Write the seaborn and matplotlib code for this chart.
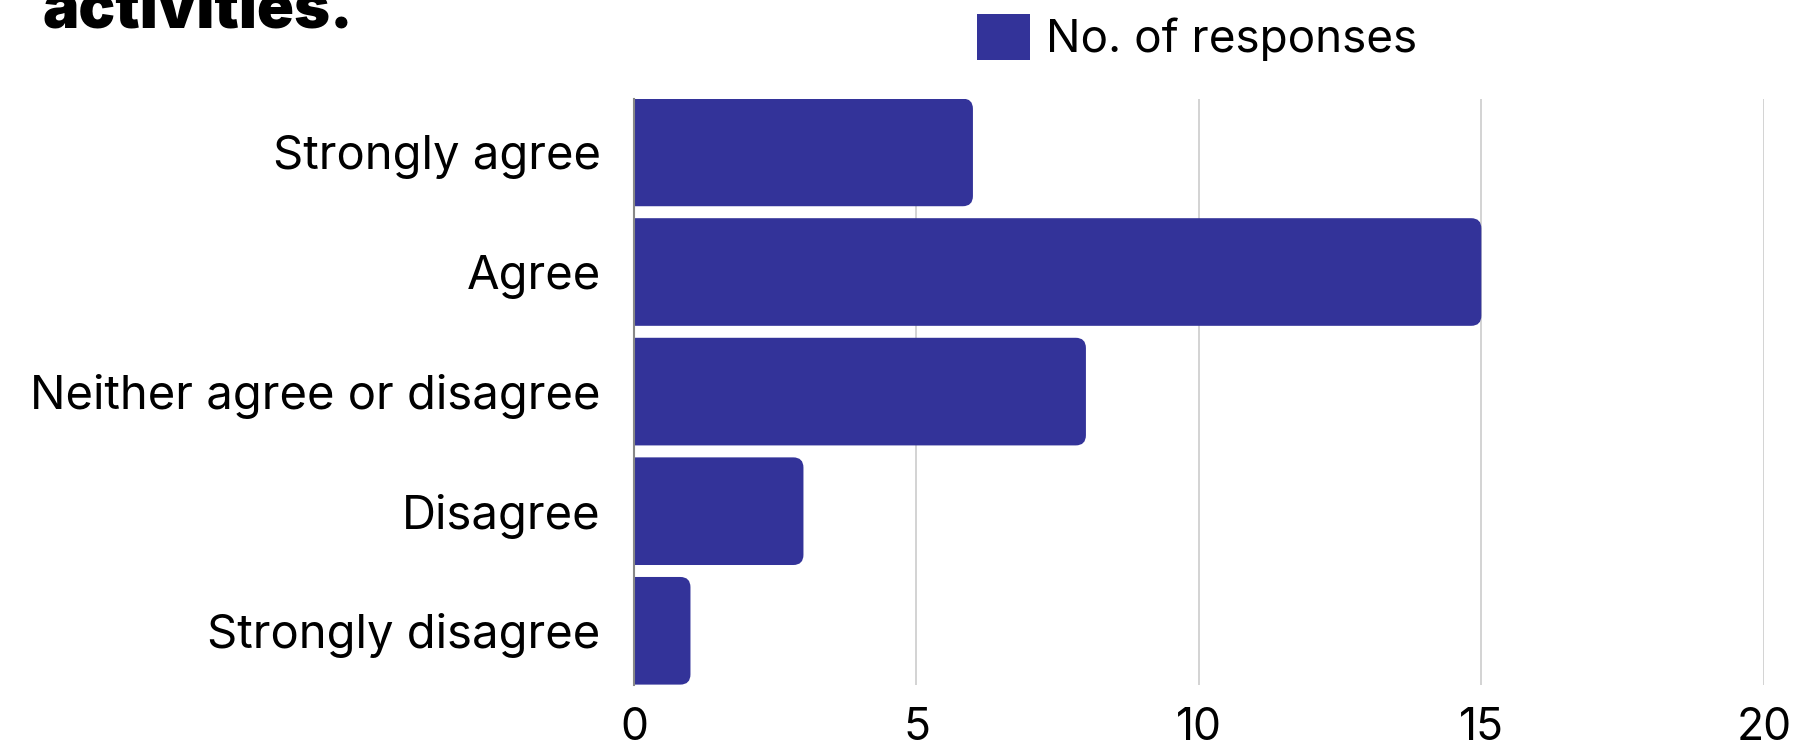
import matplotlib
matplotlib.use("Agg")
import pandas as pd
import seaborn as sns
import matplotlib.pyplot as plt
from matplotlib.patches import FancyBboxPatch, Patch

# -----------------------------------
# DATA
# -----------------------------------

categories = ["Strongly agree", "Agree", "Neither agree or disagree",
              "Disagree", "Strongly disagree"]
responses = [6, 15, 8, 3, 1]
x_ticks = [0, 5, 10, 15, 20]
series_name = "No. of responses"

df = pd.DataFrame({"answer": categories, "count": responses})

BAR_COLOR = "#333399"

# -----------------------------------
# STYLE
# -----------------------------------

sns.set_style("white")
plt.rcParams["font.family"] = ["Inter", "DejaVu Sans"]
plt.rcParams["text.color"] = "black"
plt.rcParams["xtick.color"] = "black"
plt.rcParams["ytick.color"] = "black"

fig = plt.figure(figsize=(17.98, 7.46), dpi=100)
ax = fig.add_axes([0.3526, 1 - 684.6 / 746, 0.6284, (684.6 - 98.6) / 746])

sns.barplot(data=df, x="count", y="answer", color=BAR_COLOR,
            width=0.9, saturation=1, ax=ax, zorder=2)

# swap plain bars for ones with rounded right corners
bars = list(ax.patches)
for p in bars:
    x0, y0 = p.get_x(), p.get_y()
    w, h = p.get_width(), p.get_height()
    p.set_visible(False)
    rounded = FancyBboxPatch(
        (x0 - 1.0, y0), w + 1.0, h,
        boxstyle="round,pad=0,rounding_size=0.18",
        mutation_aspect=0.475,
        facecolor=BAR_COLOR, edgecolor="none", zorder=2,
    )
    ax.add_patch(rounded)

ax.set_xlim(0, 20)
ax.set_ylim(len(categories) - 0.55, -0.45)
ax.set_xticks(x_ticks)
ax.set_xticklabels([str(t) for t in x_ticks], fontsize=32)
ax.tick_params(axis="y", labelsize=34, length=0, pad=24)
ax.tick_params(axis="x", length=0, pad=16)
ax.set_xlabel("")
ax.set_ylabel("")

ax.xaxis.grid(True, color="#cccccc", linewidth=1.2, zorder=0)
ax.yaxis.grid(False)
for side in ["top", "right", "bottom"]:
    ax.spines[side].set_visible(False)
ax.spines["left"].set_color("#888888")
ax.spines["left"].set_linewidth(1.5)
ax.spines["left"].set_zorder(3)

# -----------------------------------
# TITLE (only tail visible) & LEGEND
# -----------------------------------

fig.text(42 / 1798, 1 - 27 / 746, "activities.", fontsize=44,
         fontweight="black", va="baseline", ha="left", color="black")

fig.legend(handles=[Patch(facecolor=BAR_COLOR, edgecolor="none")],
           labels=[series_name], loc="upper left",
           bbox_to_anchor=(977 / 1798, 1 - 14 / 746), frameon=False,
           fontsize=33, handlelength=1.16, handleheight=1.16,
           handletextpad=0.35, borderpad=0, borderaxespad=0)

plt.savefig("out.png", dpi=100)
